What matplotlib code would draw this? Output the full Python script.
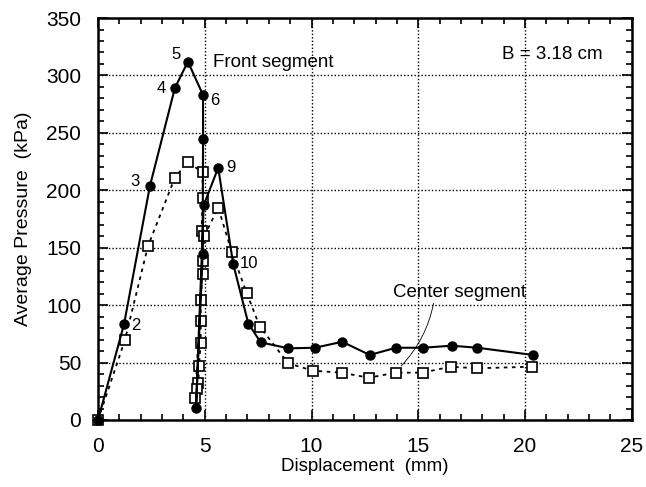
import numpy as np
import matplotlib.pyplot as plt
from matplotlib.ticker import MultipleLocator

plt.rcParams['font.family'] = ['Liberation Sans', 'DejaVu Sans']

# front segment (filled circles, solid line)
front_x = [0, 1.22, 2.43, 3.6, 4.21, 4.92, 4.92, 4.9, 4.59, 4.95, 5.63, 6.33,
           7.04, 7.62, 8.92, 10.16, 11.44, 12.73, 13.95, 15.23, 16.56, 17.77, 20.38]
front_y = [0, 83.5, 203.6, 289, 312, 283, 245, 144.5, 10.4, 187, 219.6, 136,
           84, 67.6, 62.4, 62.9, 68.1, 56.6, 62.9, 62.9, 64.7, 62.9, 56.6]

# center segment (open squares, dotted line)
center_x = [0, 1.26, 2.34, 3.6, 4.2, 4.9, 4.9, 4.85, 4.9, 4.9, 4.81, 4.81, 4.81,
            4.73, 4.7, 4.66, 4.54, 4.98, 5.63, 6.26, 6.96, 7.58, 8.91, 10.08,
            11.41, 12.69, 13.94, 15.2, 16.51, 17.73, 20.33]
center_y = [0, 69.6, 151.4, 210.9, 224.8, 215.6, 193, 164.8, 138.4, 127, 104.4,
            86.2, 66.8, 47, 31.9, 26.7, 18.9, 160, 185, 146.5, 110.8, 81.2, 49.3,
            42.9, 41.2, 36.8, 41.2, 41.2, 46.4, 45, 46.4]

# point numbers on the front curve
pt_labels = ['2', '3', '4', '5', '6', '9', '10']
pt_idx = [1, 2, 3, 4, 5, 10, 11]

fig = plt.figure(figsize=(6.46, 4.87), dpi=100)
ax = fig.add_axes([0.1517, 0.1376, 0.8263, 0.8254])

ax.plot(center_x, center_y, color='black', linestyle=(0, (2, 2.5)), lw=1.3,
        marker='s', ms=6.5, mfc='white', mec='black', mew=1.2, zorder=3,
        clip_on=False)
ax.plot(front_x, front_y, color='black', lw=1.5, marker='o', ms=6.5,
        mfc='black', mec='black', zorder=4, clip_on=False)

offs = {'2': (5, -1), '3': (-14, 3), '4': (-13, 0), '5': (-12, 5),
        '6': (5, -4), '9': (6, 0), '10': (5, 0)}
for lab, i in zip(pt_labels, pt_idx):
    dx, dy = offs[lab]
    ax.annotate(lab, (front_x[i], front_y[i]), xytext=(dx, dy),
                textcoords='offset points', fontsize=12, va='center', ha='left')

ax.text(5.38, 311.6, 'Front segment', fontsize=13.5, va='center', ha='left')
ax.text(18.9, 318, 'B = 3.18 cm', fontsize=13.5, va='center', ha='left')
ax.annotate('Center segment', xy=(14.2, 47), xytext=(13.81, 111.4),
            fontsize=13.5, va='center', ha='left',
            arrowprops=dict(arrowstyle='-', color='black', lw=0.6,
                            connectionstyle='arc3,rad=-0.15',
                            shrinkA=0, shrinkB=0, relpos=(0.31, 0)))

ax.set_xlim(0, 25)
ax.set_ylim(0, 350)
ax.xaxis.set_major_locator(MultipleLocator(5))
ax.xaxis.set_minor_locator(MultipleLocator(1))
ax.yaxis.set_major_locator(MultipleLocator(50))
ax.yaxis.set_minor_locator(MultipleLocator(10))
ax.tick_params(which='both', direction='in', top=True, right=True,
               labelsize=15, width=1.2, pad=12)
ax.tick_params(which='major', length=7)
ax.tick_params(which='minor', length=4)
ax.grid(True, which='major', color='black', linestyle=(0, (1, 1.5)), lw=1.0)
for s in ax.spines.values():
    s.set_linewidth(1.8)

ax.set_xlabel('Displacement  (mm)', fontsize=13.5, labelpad=2)
ax.set_ylabel('Average Pressure  (kPa)', fontsize=14, labelpad=10)

fig.savefig('out.png', dpi=100)
